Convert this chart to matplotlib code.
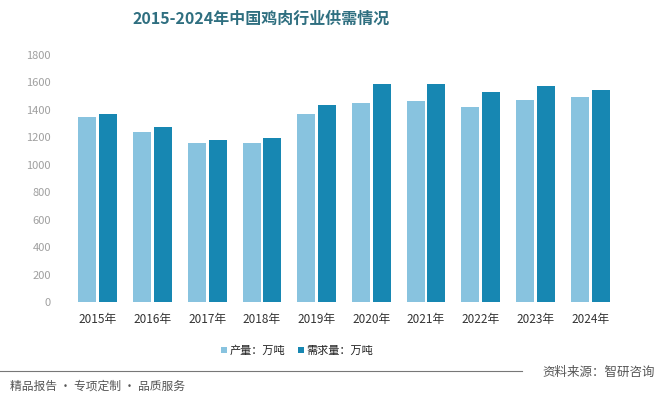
import matplotlib
matplotlib.use("Agg")
import matplotlib.pyplot as plt
import numpy as np

plt.rcParams['font.family'] = ['Noto Sans CJK SC', 'DejaVu Sans']

years = ["2015年", "2016年", "2017年", "2018年", "2019年", "2020年", "2021年", "2022年", "2023年", "2024年"]
production = [1345, 1240, 1160, 1160, 1370, 1448, 1465, 1421, 1472, 1494]
demand = [1370, 1276, 1181, 1195, 1436, 1589, 1589, 1530, 1574, 1545]
yticks = [0, 200, 400, 600, 800, 1000, 1200, 1400, 1600, 1800]

W, H = 659, 398
fig = plt.figure(figsize=(W / 100, H / 100), dpi=100)
ax = fig.add_axes([70.5 / W, 1 - 302 / H, 547 / W, 247 / H])

x = np.arange(len(years))
bw = 0.33
ax.bar(x - 0.19, production, width=bw, color="#88c3df", label="产量：万吨")
ax.bar(x + 0.19, demand, width=bw, color="#1787b2", label="需求量：万吨")
ax.set_xlim(-0.5, len(years) - 0.5)
ax.set_ylim(0, 1800)
ax.set_yticks(yticks)
ax.set_yticklabels([str(t) for t in yticks], fontsize=8, color="#a0a0a0")
ax.set_xticks(x)
ax.set_xticklabels(years, fontsize=8.5, color="#333333")
ax.tick_params(axis='both', length=0)
ax.tick_params(axis='y', pad=14)
ax.tick_params(axis='x', pad=8)
for s in ax.spines.values():
    s.set_visible(False)

fig.text(261 / W, 1 - 19 / H, "2015-2024年中国鸡肉行业供需情况", ha="center", va="center",
         fontsize=11.5, fontweight="bold", color="#2f6f80")

leg = fig.legend(loc="center", bbox_to_anchor=(297 / W, 1 - 351 / H), ncol=2, frameon=False,
                 fontsize=8, handlelength=0.5, handleheight=0.5, columnspacing=1.2, handletextpad=0.2)
for t in leg.get_texts():
    t.set_color("#222222")

fig.add_artist(plt.Line2D([0, 522 / W], [1 - 371 / H, 1 - 371 / H], color="#777777", lw=0.8,
                          transform=fig.transFigure))
fig.text(655 / W, 1 - 372 / H, "资料来源：智研咨询", ha="right", va="center", fontsize=9, color="#555555")
fig.text(10 / W, 1 - 386 / H, "精品报告 · 专项定制 · 品质服务", ha="left", va="center", fontsize=8.5, color="#555555")

fig.savefig("out.png", dpi=100)
